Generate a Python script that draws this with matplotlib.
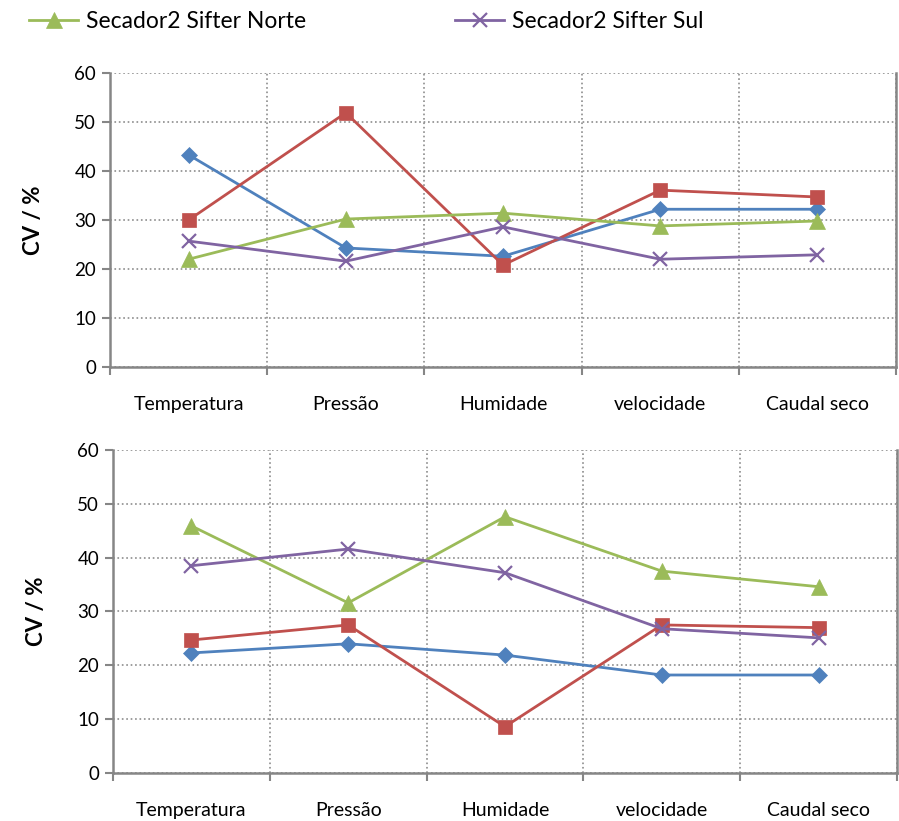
import numpy as np
import matplotlib
matplotlib.use("Agg")
from matplotlib import pyplot as plt

plt.rcParams['font.family'] = ['Lato', 'DejaVu Sans']

categories = ['Temperatura', 'Pressão', 'Humidade', 'velocidade', 'Caudal seco']
series_names = ['Secador1 Sifter Norte', 'Secador1 Sifter Sul',
                'Secador2 Sifter Norte', 'Secador2 Sifter Sul']

# upper chart
top_blue = [43.3, 24.3, 22.6, 32.2, 32.2]
top_red = [30.0, 51.9, 20.8, 36.1, 34.7]
top_green = [22.0, 30.2, 31.4, 28.8, 29.8]
top_purple = [25.7, 21.6, 28.6, 22.0, 22.9]

# lower chart
bot_blue = [22.3, 24.0, 21.9, 18.2, 18.2]
bot_red = [24.7, 27.5, 8.6, 27.5, 27.0]
bot_green = [45.9, 31.6, 47.6, 37.5, 34.6]
bot_purple = [38.5, 41.6, 37.2, 26.8, 25.1]

colors = ['#4F81BD', '#C0504D', '#9BBB59', '#8064A2']
markers = ['D', 's', '^', 'x']
msizes = [8.5, 10.5, 11, 10]

fig = plt.figure(figsize=(8.99, 8.21), dpi=100)
ax1 = fig.add_axes([0.1224, 0.553, 0.8743, 0.358])
ax2 = fig.add_axes([0.1257, 0.0585, 0.8720, 0.3934])

x = np.arange(len(categories))


def style_axes(ax):
    ax.set_xlim(-0.5, len(categories) - 0.5)
    ax.set_ylim(0, 60)
    ax.set_yticks(np.arange(0, 61, 10))
    ax.set_xticks(np.arange(-0.5, len(categories), 1.0))
    ax.set_xticklabels([])
    ax.set_xticks(x, minor=True)
    ax.set_xticklabels(categories, minor=True)
    ax.tick_params(axis='x', which='major', length=6, width=1.5,
                   color='#868686', direction='out')
    ax.tick_params(axis='x', which='minor', length=0, pad=21, labelsize=14)
    ax.tick_params(axis='y', length=6, width=1.5, color='#868686',
                   labelsize=13.5, pad=4)
    ax.grid(True, which='major', color='#8c8c8c', linestyle=':',
            linewidth=1.2)
    ax.set_axisbelow(True)
    for side in ['left', 'bottom', 'right']:
        ax.spines[side].set_color('#868686')
        ax.spines[side].set_linewidth(1.8)
    ax.spines['top'].set_visible(False)
    ax.set_ylabel('CV / %', fontsize=16, fontweight='bold', labelpad=22)


handles = []
for ax, data in [(ax1, [top_blue, top_red, top_green, top_purple]),
                 (ax2, [bot_blue, bot_red, bot_green, bot_purple])]:
    hs = []
    for vals, c, m, ms, name in zip(data, colors, markers, msizes, series_names):
        mew = 1.6 if m == 'x' else 0.5
        h, = ax.plot(x, vals, color=c, marker=m, markersize=ms, linewidth=2,
                     markeredgecolor=c, markeredgewidth=mew, label=name,
                     clip_on=False, zorder=3)
        hs.append(h)
    style_axes(ax)
    handles.append(hs)

# only the Secador2 entries fit in the visible legend strip
leg = fig.legend(handles[0][2:], series_names[2:], loc='upper left',
                 bbox_to_anchor=(0.0094, 1.012), ncol=2, frameon=False,
                 fontsize=16.5, handlelength=2.14, handletextpad=0.35,
                 columnspacing=6.5)

fig.savefig('out.png', dpi=100)
